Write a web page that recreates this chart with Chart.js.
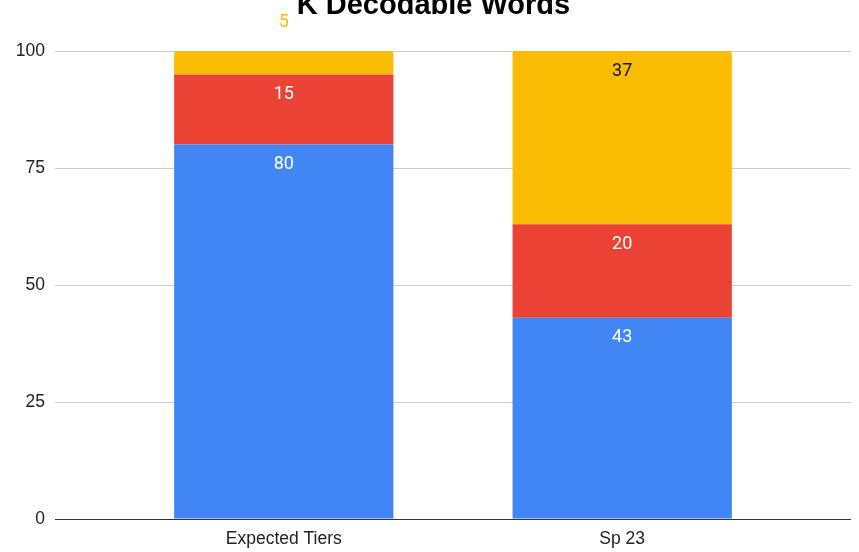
<!DOCTYPE html>
<html>
<head>
<meta charset="utf-8">
<script src="https://cdn.jsdelivr.net/npm/chart.js@4"></script>
<style>
  html, body { margin: 0; padding: 0; background: #fff; overflow: hidden; }
  #wrap { width: 859px; height: 552px; }
</style>
</head>
<body>
<div id="wrap"><canvas id="mychart" width="859" height="552"></canvas></div>
<script>
const categories = ['Expected Tiers', 'Sp 23'];
const blueVals = [80, 43];
const redVals = [15, 20];
const yellowVals = [5, 37];
const yTicks = [0, 25, 50, 75, 100];
const chartTitle = 'K Decodable Words';

const getchart = document.querySelector('#mychart');

function toPoints(vals) {
  return vals.map((v, i) => ({ x: i, y: v }));
}

// title + value labels, google-sheets style (small segments get their label above the bar)
const valueLabels = {
  id: 'valueLabels',
  afterDatasetsDraw(chart) {
    const ctx = chart.ctx;
    ctx.save();
    ctx.font = 'bold 29px "Liberation Sans"';
    ctx.fillStyle = '#000';
    ctx.textAlign = 'center';
    ctx.textBaseline = 'alphabetic';
    ctx.fillText(chartTitle, chart.width / 2 + 4, 14);

    ctx.font = '18px Roboto';
    ctx.textBaseline = 'middle';
    chart.data.datasets.forEach((ds, di) => {
      const meta = chart.getDatasetMeta(di);
      meta.data.forEach((el, i) => {
        const v = ds.data[i].y;
        if (v < 8) {
          ctx.fillStyle = ds.backgroundColor;
          ctx.fillText(v, el.x, el.y - 29);
        } else {
          ctx.fillStyle = ds.labelColor;
          ctx.fillText(v, el.x, el.y + 20);
        }
      });
    });
    ctx.restore();
  }
};

const data = {
  datasets: [
    { label: 'Tier 1', data: toPoints(blueVals), backgroundColor: '#4285F4', labelColor: '#fff' },
    { label: 'Tier 2', data: toPoints(redVals), backgroundColor: '#EA4335', labelColor: '#fff' },
    { label: 'Tier 3', data: toPoints(yellowVals), backgroundColor: '#FBBC04', labelColor: '#111',
      borderRadius: { topLeft: 3, topRight: 3, bottomLeft: 0, bottomRight: 0 }, borderSkipped: false }
  ]
};

const config = {
  type: 'bar',
  data: data,
  options: {
    responsive: false,
    animation: false,
    barPercentage: 0.648,
    categoryPercentage: 1,
    layout: { padding: { left: 0, right: 8, top: 51, bottom: 0 } },
    plugins: {
      legend: { display: false },
      tooltip: { enabled: false },
      title: { display: false }
    },
    scales: {
      x: {
        type: 'linear',
        stacked: true,
        offset: false,
        bounds: 'data',
        min: -0.676,
        max: 1.676,
        grid: { display: false, drawTicks: false, offset: false },
        border: { display: false },
        afterBuildTicks: (scale) => { scale.ticks = categories.map((c, i) => ({ value: i })); },
        afterFit: (scale) => { scale.height = 33; },
        ticks: {
          padding: 10,
          color: '#222',
          font: { family: 'Liberation Sans', size: 17.5 },
          callback: (v) => categories[v]
        }
      },
      y: {
        stacked: true,
        min: 0,
        max: 100,
        afterBuildTicks: (scale) => { scale.ticks = yTicks.map(v => ({ value: v })); },
        afterFit: (scale) => { scale.width = 55; },
        border: { display: false },
        grid: {
          drawTicks: false,
          color: (c) => c.tick && c.tick.value === 0 ? '#333' : '#ccc'
        },
        ticks: {
          padding: 10,
          color: '#222',
          font: { family: 'Liberation Sans', size: 17.5 }
        }
      }
    }
  },
  plugins: [valueLabels]
};

let chart = new Chart(getchart, config);
</script>
</body>
</html>
